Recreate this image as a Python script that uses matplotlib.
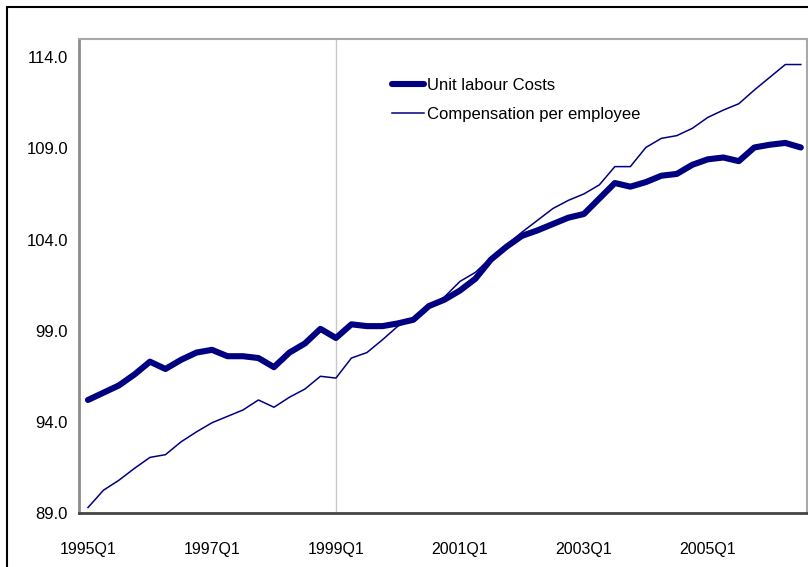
import matplotlib
matplotlib.use("Agg")
import matplotlib.pyplot as plt
from matplotlib.patches import Rectangle

plt.rcParams['font.family'] = ['Liberation Sans', 'DejaVu Sans']

# quarters 1995Q1 .. 2006Q3
quarters = ["%dQ%d" % (1995 + i // 4, i % 4 + 1) for i in range(47)]

unit_labour_costs = [
    95.2, 95.6, 96.0, 96.6, 97.3, 96.9, 97.4, 97.8, 97.95, 97.6,
    97.6, 97.5, 97.0, 97.8, 98.3, 99.1, 98.6, 99.35, 99.25, 99.25,
    99.4, 99.6, 100.35, 100.7, 101.2, 101.85, 102.9, 103.6, 104.2, 104.5,
    104.85, 105.2, 105.4, 106.25, 107.1, 106.9, 107.15, 107.5, 107.6, 108.1,
    108.4, 108.5, 108.3, 109.05, 109.2, 109.3, 109.05,
]
compensation_per_employee = [
    89.3, 90.25, 90.8, 91.45, 92.05, 92.2, 92.9, 93.45, 93.95, 94.3,
    94.65, 95.2, 94.8, 95.35, 95.8, 96.5, 96.4, 97.5, 97.8, 98.5,
    99.25, 99.7, 100.3, 100.85, 101.7, 102.2, 103.0, 103.7, 104.4, 105.05,
    105.7, 106.15, 106.5, 107.0, 108.0, 108.0, 109.05, 109.55, 109.7, 110.1,
    110.7, 111.1, 111.45, 112.2, 112.9, 113.6, 113.6,
]
series_labels = ["Unit labour Costs", "Compensation per employee"]
y_ticks = [89.0, 94.0, 99.0, 104.0, 109.0, 114.0]
x_tick_every = 8
marker_quarter = "1999Q1"

navy = "#000080"

fig = plt.figure(figsize=(8.08, 5.67), dpi=100)
# outer frame of the chart area (right and bottom edges cut off)
fig.patches.append(Rectangle((7 / 808, -0.1), 1.2, 1 - 7 / 567 + 0.1,
                             transform=fig.transFigure, fill=False,
                             edgecolor="black", linewidth=1.5))

ax = fig.add_axes([79 / 808, 1 - 513 / 567, 728 / 808, 474 / 567])

x = list(range(len(quarters)))
ax.axvline(quarters.index(marker_quarter), color="#c8c8c8", linewidth=1.0, zorder=1)
ax.plot(x, unit_labour_costs, color=navy, linewidth=4.4,
        solid_capstyle="round", solid_joinstyle="round", label=series_labels[0], zorder=3)
ax.plot(x, compensation_per_employee, color=navy, linewidth=1.1,
        label=series_labels[1], zorder=2)

ax.set_xlim(-0.58, 46.4)
ax.set_ylim(89, 115)
ax.set_yticks(y_ticks)
ax.set_yticklabels(["%.1f" % v for v in y_ticks], fontsize=12)
ax.set_xticks(x[::x_tick_every])
ax.set_xticklabels(quarters[::x_tick_every], fontsize=11.5)
ax.tick_params(axis="both", length=0)
ax.tick_params(axis="y", pad=8)
ax.tick_params(axis="x", pad=21)

ax.spines["left"].set_color("#8c8c8c")
ax.spines["left"].set_linewidth(2)
ax.spines["bottom"].set_color("#444444")
ax.spines["bottom"].set_linewidth(2)
ax.spines["top"].set_color("#a8a8a8")
ax.spines["top"].set_linewidth(1.5)
ax.spines["right"].set_color("#a8a8a8")
ax.spines["right"].set_linewidth(1.5)

fig.legend(loc="upper left", bbox_to_anchor=(392 / 808, 1 - 78 / 567),
           frameon=False, fontsize=12, handlelength=1.9, handletextpad=0.22,
           labelspacing=0.86, borderpad=0, borderaxespad=0)

fig.savefig("out.png", dpi=100)
